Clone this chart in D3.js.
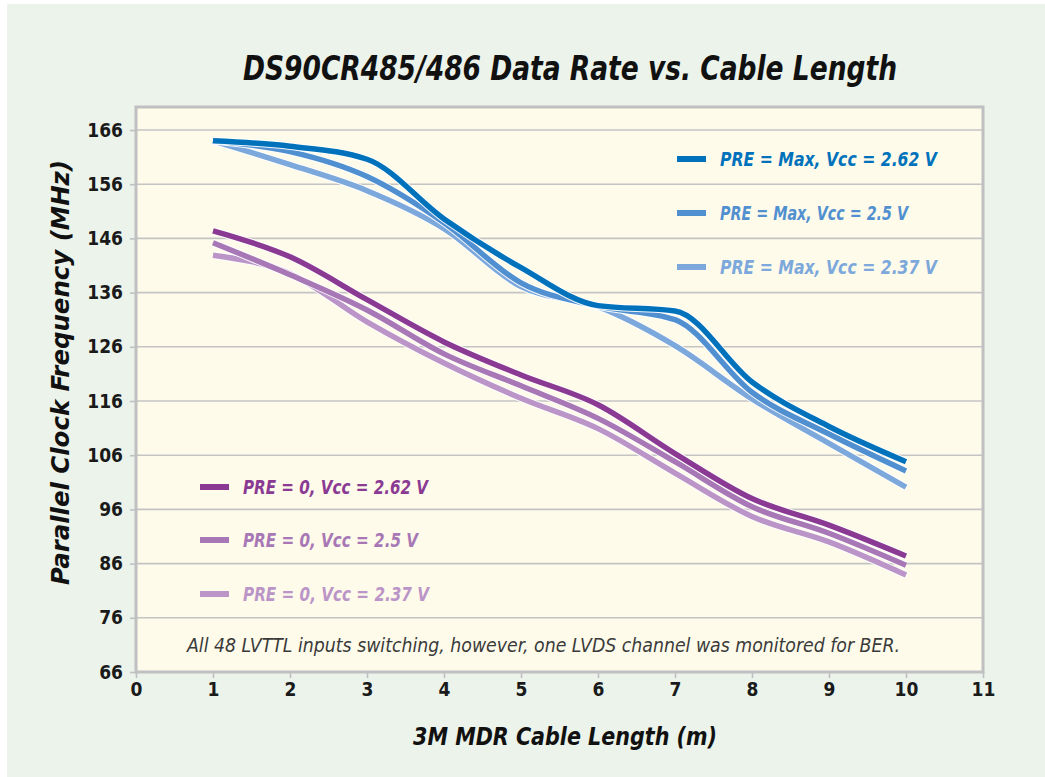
<!DOCTYPE html>
<html><head><meta charset="utf-8">
<script src="https://cdn.jsdelivr.net/npm/d3@7/dist/d3.min.js"></script>
<style>
html,body{margin:0;padding:0;background:#fff;}
svg{display:block;}
</style></head>
<body>
<script>
const cableLength = [1,2,3,4,5,6,7,8,9,10];
const seriesNames = [
  "PRE = Max, Vcc = 2.62 V","PRE = Max, Vcc = 2.5 V","PRE = Max, Vcc = 2.37 V",
  "PRE = 0, Vcc = 2.62 V","PRE = 0, Vcc = 2.5 V","PRE = 0, Vcc = 2.37 V"
];
const preMax262 = [164.0,163.0,160.6,149.6,140.6,133.6,132.6,119.5,111.3,104.8];
const preMax250 = [164.0,162.0,157.4,148.9,137.8,133.5,131.0,117.6,109.9,103.1];
const preMax237 = [164.0,159.6,154.8,147.8,137.1,133.4,126.2,116.4,108.2,100.1];
const pre0_262 = [147.4,142.6,134.7,126.9,120.8,115.3,106.3,98.0,93.1,87.4];
const pre0_250 = [145.2,139.3,132.8,124.7,118.8,112.8,104.8,96.5,91.6,85.7];
const pre0_237 = [142.9,139.5,130.6,123.0,116.5,110.9,102.7,94.7,90.0,83.9];
const xTicks = [0,1,2,3,4,5,6,7,8,9,10,11];
const yTicks = [66,76,86,96,106,116,126,136,146,156,166];
const colors = ["#0072bc","#5190d0","#7ca8dc","#8a3a93","#a877b5","#bb95c7"];
const title = "DS90CR485/486 Data Rate vs. Cable Length";
const xTitle = "3M MDR Cable Length (m)";
const yTitle = "Parallel Clock Frequency (MHz)";
const note = "All 48 LVTTL inputs switching, however, one LVDS channel was monitored for BER.";

const seriesValues = [preMax262, preMax250, preMax237, pre0_262, pre0_250, pre0_237];
const W = 1045, H = 777;
const FONT = "'Liberation Sans Narrow','DejaVu Sans Condensed','Liberation Sans',sans-serif";

const svg = d3.select("body").append("svg").attr("width", W).attr("height", H);
svg.append("rect").attr("x",0).attr("y",0).attr("width",W).attr("height",H).attr("fill","#fff");
svg.append("rect").attr("x",7).attr("y",4).attr("width",W-7).attr("height",H-4).attr("fill","#ebf3ea");

const x = d3.scaleLinear().domain([0,11]).range([136,983]);
const y = d3.scaleLinear().domain([66,166]).range([672,130]);
const plotTop = 107;

svg.append("rect").attr("x",x(0)).attr("y",plotTop).attr("width",x(11)-x(0)).attr("height",y(66)-plotTop)
  .attr("fill","#fefbea");

svg.append("g").selectAll("line").data(yTicks.filter(d=>d>66)).join("line")
  .attr("x1",x(0)).attr("x2",x(11)).attr("y1",d=>y(d)).attr("y2",d=>y(d))
  .attr("stroke","#c4c4c4").attr("stroke-width",1.6);

svg.append("rect").attr("x",x(0)).attr("y",plotTop).attr("width",x(11)-x(0)).attr("height",y(66)-plotTop)
  .attr("fill","none").attr("stroke","#c0c0c2").attr("stroke-width",3);

const yAxis = d3.axisLeft(y).tickValues(yTicks).tickSize(6).tickPadding(7);
const gy = svg.append("g").attr("transform",`translate(${x(0)},0)`).call(yAxis);
gy.select(".domain").remove();
gy.selectAll(".tick line").attr("stroke","#c0c0c2").attr("stroke-width",1.6);
gy.selectAll(".tick text").attr("font-family",FONT).attr("font-weight","bold").attr("font-size",19)
  .attr("fill","#1a1a1a");

const xAxis = d3.axisBottom(x).tickValues(xTicks).tickSize(6).tickPadding(5);
const gx = svg.append("g").attr("transform",`translate(0,${y(66)})`).call(xAxis);
gx.select(".domain").remove();
gx.selectAll(".tick line").attr("stroke","#c0c0c2").attr("stroke-width",1.6);
gx.selectAll(".tick text").attr("font-family",FONT).attr("font-weight","bold").attr("font-size",19)
  .attr("fill","#1a1a1a");

const line = d3.line().x((d,i)=>x(cableLength[i])).y(d=>y(d)).curve(d3.curveMonotoneX);
const order = [5,4,3,2,1,0];
const lg = svg.append("g");
order.forEach(k=>{
  lg.append("path").attr("d",line(seriesValues[k])).attr("fill","none")
    .attr("stroke","#ffffff").attr("stroke-width",7.5).attr("stroke-opacity",0.9);
  lg.append("path").attr("d",line(seriesValues[k])).attr("fill","none")
    .attr("stroke",colors[k]).attr("stroke-width",5.5);
});

const legendPos = [
  {lx:677, tx:720, y:159, w:217},
  {lx:677, tx:720, y:213, w:188},
  {lx:677, tx:720, y:267, w:217},
  {lx:200, tx:243, y:487, w:185},
  {lx:200, tx:243, y:540, w:175},
  {lx:200, tx:243, y:594, w:186}
];
seriesNames.forEach((name,k)=>{
  const p = legendPos[k];
  svg.append("line").attr("x1",p.lx).attr("x2",p.lx+29).attr("y1",p.y).attr("y2",p.y)
    .attr("stroke",colors[k]).attr("stroke-width",6);
  svg.append("text").attr("x",p.tx).attr("y",p.y).attr("dy","0.36em")
    .attr("font-family",FONT).attr("font-weight","bold").attr("font-style","italic").attr("font-size",20)
    .attr("fill",colors[k]).attr("textLength",p.w).attr("lengthAdjust","spacingAndGlyphs").text(name);
});

svg.append("text").attr("x",187).attr("y",652).attr("font-family",FONT).attr("font-style","italic")
  .attr("font-size",19).attr("fill","#3a3a3a").attr("textLength",713).attr("lengthAdjust","spacingAndGlyphs").text(note);

svg.append("text").attr("x",243).attr("y",80).attr("font-family",FONT).attr("font-weight","bold").attr("font-style","italic")
  .attr("font-size",34).attr("fill","#111").attr("textLength",654).attr("lengthAdjust","spacingAndGlyphs").text(title);

svg.append("text").attr("x",413).attr("y",745).attr("font-family",FONT).attr("font-weight","bold").attr("font-style","italic")
  .attr("font-size",25).attr("fill","#111").attr("textLength",304).attr("lengthAdjust","spacingAndGlyphs").text(xTitle);
svg.append("text").attr("transform","translate(69,585) rotate(-90)").attr("x",0).attr("y",0)
  .attr("font-family",FONT).attr("font-weight","bold").attr("font-style","italic")
  .attr("font-size",25).attr("fill","#111").attr("textLength",425).attr("lengthAdjust","spacingAndGlyphs").text(yTitle);
</script>
</body></html>
